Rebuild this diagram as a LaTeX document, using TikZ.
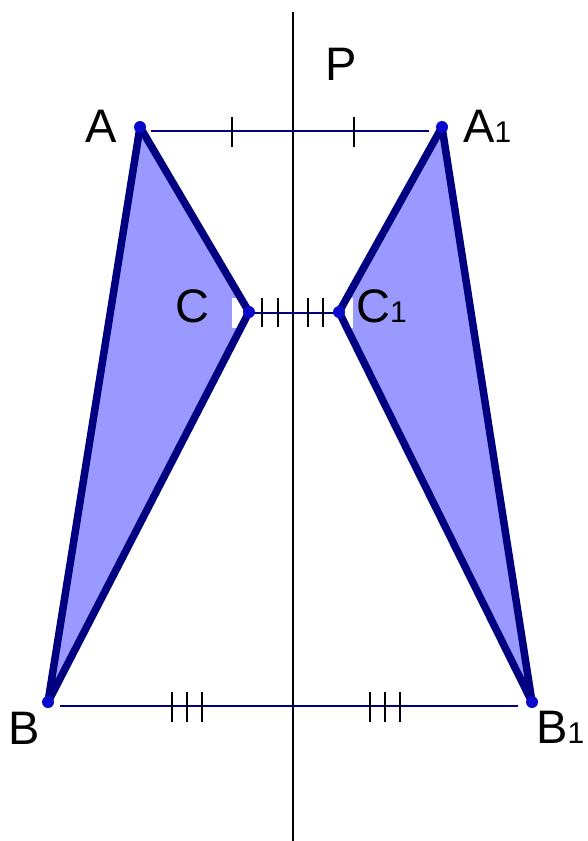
\documentclass[tikz,border=0pt]{standalone}
\usepackage{fontspec}
\setmainfont{Liberation Sans}
\definecolor{navy}{HTML}{000080}
\definecolor{trifill}{HTML}{9999FF}
\definecolor{ptblue}{HTML}{0A0ACC}
\begin{document}
\begin{tikzpicture}[x=1pt,y=-1pt,
  edge/.style={draw=navy,line width=7.5pt,line join=round},
  segline/.style={draw=navy,line width=2.2pt},
  axis/.style={draw=black,line width=2.2pt},
  tick/.style={draw=black,line width=2.2pt},
  pt/.style={circle,fill=ptblue,inner sep=0pt,minimum size=12pt},
  lbl/.style={anchor=base west,inner sep=0pt,font=\fontsize{47}{50}\selectfont}]
\useasboundingbox (0,0) rectangle (587,841);
% points
\coordinate (A) at (140,127);
\coordinate (B) at (48,702);
\coordinate (C) at (249,312);
\coordinate (A1) at (442,127);
\coordinate (B1) at (532,702);
\coordinate (C1) at (339,312);
% axis
\draw[axis] (293,12) coordinate (Ptop) -- (293,841) coordinate (Pbot);
% triangle fills
\fill[trifill] (A) -- (B) -- (C) -- cycle;
\fill[trifill] (A1) -- (B1) -- (C1) -- cycle;
% white patches
\fill[white] (232,298) rectangle (257,328);
\fill[white] (333,298) rectangle (353,328);
% outlines
\draw[edge] (A) -- (B) -- (C) -- cycle;
\draw[edge] (A1) -- (B1) -- (C1) -- cycle;
% segments
\draw[segline] ([shift={(11,4)}]A) -- ([shift={(-13,4)}]A1);
\draw[segline] ([shift={(4,1)}]C) -- ([shift={(-4,1)}]C1);
\draw[segline] ([shift={(12,4)}]B) -- ([shift={(-14,4)}]B1);
% ticks
\draw[tick] (232,117) -- (232,147);
\draw[tick] (354,117) -- (354,147);
\draw[tick] (262,298) -- (262,327);
\draw[tick] (278,298) -- (278,327);
\draw[tick] (308,298) -- (308,327);
\draw[tick] (323,298) -- (323,327);
\foreach \x in {172,187,202,370,385,400}
  \draw[tick] (\x,692) -- (\x,722);
% point dots
\node[pt] (pA) at (A) {};
\node[pt] (pB) at (B) {};
\node[pt] (pC) at (C) {};
\node[pt] (pA1) at (A1) {};
\node[pt] (pB1) at (B1) {};
\node[pt] (pC1) at (C1) {};
% labels
\node[lbl] (lP) at (325,80) {P};
\node[lbl] (lA) at (85,142) {A};
\node[lbl] (lA1) at (463,142) {A{\fontsize{30}{32}\selectfont 1}};
\node[lbl] (lC) at (175,322) {C};
\node[lbl] (lC1) at (356,322) {C{\fontsize{30}{32}\selectfont 1}};
\node[lbl] (lB) at (8,744) {B};
\node[lbl] (lB1) at (536,743) {B{\fontsize{30}{32}\selectfont 1}};
\end{tikzpicture}
\end{document}
